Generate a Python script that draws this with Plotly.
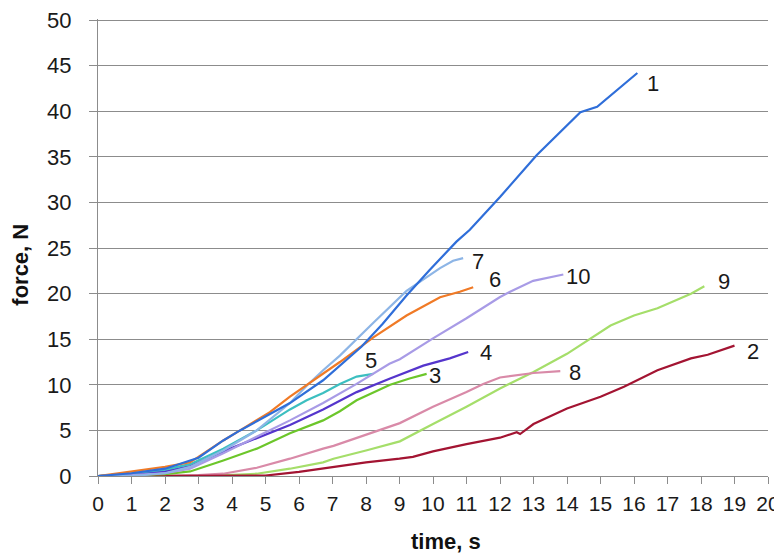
import plotly.graph_objects as go

# ---- data ----
t1 = [0, 1, 2, 3, 3.74, 4.24, 4.74, 5.13, 5.73, 6.72, 7.87, 8.5, 9.21, 9.9, 10.7, 11.1, 12.0, 13.1, 14.0, 14.4, 14.9, 15.4, 15.8, 16.1]
f1 = [0, 0.3, 0.8, 2.0, 3.9, 5.0, 6.0, 6.8, 8.0, 10.5, 14.2, 16.7, 19.8, 22.6, 25.7, 27.0, 30.6, 35.2, 38.5, 39.9, 40.5, 42.0, 43.2, 44.2]

t2 = [0, 2, 3, 4, 5, 6, 7, 8, 9, 9.4, 10, 11, 12, 12.5, 12.6, 12.8, 13, 14, 15, 15.7, 16.7, 17.7, 18.2, 19.0]
f2 = [0, 0, 0, 0, 0.05, 0.45, 1.0, 1.5, 1.9, 2.1, 2.7, 3.5, 4.2, 4.8, 4.6, 5.2, 5.7, 7.4, 8.7, 9.8, 11.6, 12.9, 13.3, 14.3]

t3 = [0, 1, 2, 2.75, 3.74, 4.74, 5.73, 6.72, 7.22, 7.72, 8.72, 9.3, 9.81]
f3 = [0, 0.1, 0.2, 0.5, 1.7, 3.0, 4.7, 6.1, 7.1, 8.3, 10.0, 10.7, 11.2]

t4 = [0, 1, 2, 2.75, 3.74, 4.74, 5.73, 6.72, 7.72, 8.72, 9.71, 10.5, 11.05]
f4 = [0, 0.2, 0.5, 1.1, 2.7, 4.2, 5.6, 7.3, 9.2, 10.7, 12.1, 12.9, 13.6]

t5 = [0, 1, 2, 2.75, 3.74, 4.74, 5.73, 6.23, 6.72, 7.22, 7.72, 8.22]
f5 = [0, 0.3, 0.7, 1.3, 3.0, 5.0, 7.3, 8.3, 9.1, 10.1, 10.9, 11.2]

t6 = [0, 1, 2, 2.75, 3.74, 4.24, 5.13, 5.73, 6.72, 7.22, 8.22, 9.21, 10.21, 10.8, 11.2]
f6 = [0, 0.5, 1.0, 1.5, 3.9, 5.0, 7.0, 8.7, 11.2, 12.5, 15.2, 17.6, 19.6, 20.2, 20.7]

t7 = [0, 1, 2, 2.75, 3.74, 4.74, 5.73, 6.23, 6.72, 7.22, 8.22, 9.21, 10.21, 10.6, 10.9]
f7 = [0, 0, 0.3, 1.0, 2.8, 5.0, 8.0, 9.9, 11.6, 13.2, 16.8, 20.3, 22.8, 23.6, 23.9]

t8 = [0, 2, 2.5, 3, 3.74, 4.74, 5.73, 6.72, 7.03, 9.01, 10.0, 11.0, 11.5, 12.0, 13.0, 13.8]
f8 = [0, 0, 0.05, 0.1, 0.25, 0.9, 1.9, 3.0, 3.3, 5.8, 7.6, 9.2, 10.1, 10.8, 11.3, 11.5]

t9 = [0, 2.5, 3.5, 4.74, 5.73, 6.72, 7.03, 8, 9.01, 10, 11, 12, 13, 14, 14.7, 15.3, 16, 16.7, 17.7, 18.1]
f9 = [0, 0, 0.05, 0.25, 0.8, 1.5, 1.9, 2.8, 3.8, 5.7, 7.6, 9.6, 11.4, 13.4, 15.1, 16.5, 17.6, 18.4, 20.0, 20.8]

t10 = [0, 1, 2, 2.75, 3.74, 4.74, 5.73, 6.72, 7.72, 8.7, 9.01, 10, 11, 11.99, 12.3, 12.99, 13.89]
f10 = [0, 0.1, 0.3, 0.8, 2.5, 4.3, 6.1, 8.0, 10.1, 12.3, 12.8, 15.1, 17.3, 19.6, 20.2, 21.4, 22.1]

names = ["1", "2", "3", "4", "5", "6", "7", "8", "9", "10"]
label_t = [16.57, 19.55, 10.06, 11.58, 8.15, 11.85, 11.34, 14.24, 18.69, 14.33]
label_f = [43.1, 13.7, 11.0, 13.5, 12.7, 21.5, 23.5, 11.3, 21.3, 21.9]

colors = ["#2F6ED9", "#A31432", "#6CC62A", "#5535CC", "#3CBFC0",
          "#F07A26", "#8DB5E6", "#D98AA8", "#A5DE6A", "#A89BE6"]

series_t = [t1, t2, t3, t4, t5, t6, t7, t8, t9, t10]
series_f = [f1, f2, f3, f4, f5, f6, f7, f8, f9, f10]

FONT = "Liberation Sans, Arial, sans-serif"

fig = go.Figure()
order = [8, 7, 1, 2, 3, 4, 9, 6, 5, 0]
for i in order:
    fig.add_trace(go.Scatter(x=series_t[i], y=series_f[i], mode="lines",
                             name=names[i],
                             line=dict(color=colors[i], width=2.2),
                             showlegend=False))

for i in range(10):
    fig.add_annotation(x=label_t[i], y=label_f[i], text=names[i],
                       showarrow=False, xanchor="center", yanchor="middle",
                       font=dict(family=FONT, size=22, color="#1a1a1a"))

fig.add_annotation(xref="paper", yref="paper", x=0.519, y=-0.1425,
                   text="<b>time, s</b>", showarrow=False,
                   xanchor="center", yanchor="middle",
                   font=dict(family=FONT, size=22, color="#111111"))
fig.add_annotation(xref="paper", yref="paper", x=-0.116, y=0.463,
                   text="<b>force, N</b>", showarrow=False, textangle=-90,
                   xanchor="center", yanchor="middle",
                   font=dict(family=FONT, size=22, color="#111111"))

# the page body adds an 8px offset, so the figure is 8px smaller and margins shifted
fig.update_layout(
    width=774, height=547,
    margin=dict(l=90, r=14, t=11, b=79),
    paper_bgcolor="white", plot_bgcolor="white",
    font=dict(family=FONT, size=20, color="#1a1a1a"),
    xaxis=dict(range=[0, 20], dtick=1, tick0=0, showgrid=False, zeroline=False,
               automargin=False, ticklabeloverflow="allow",
               showline=True, linecolor="#8c8c8c", linewidth=1,
               ticks="outside", ticklen=7, tickcolor="#8c8c8c",
               ticklabelstandoff=2,
               tickfont=dict(family=FONT, size=21, color="#1a1a1a")),
    yaxis=dict(range=[0, 50.12], dtick=5, tick0=0, showgrid=True,
               automargin=False, ticklabeloverflow="allow",
               gridcolor="#8c8c8c", gridwidth=1, zeroline=False,
               showline=True, linecolor="#8c8c8c", linewidth=1,
               ticks="outside", ticklen=8, tickcolor="#8c8c8c",
               ticklabelstandoff=13,
               tickfont=dict(family=FONT, size=22, color="#1a1a1a")),
)

fig.write_html("out.html")
